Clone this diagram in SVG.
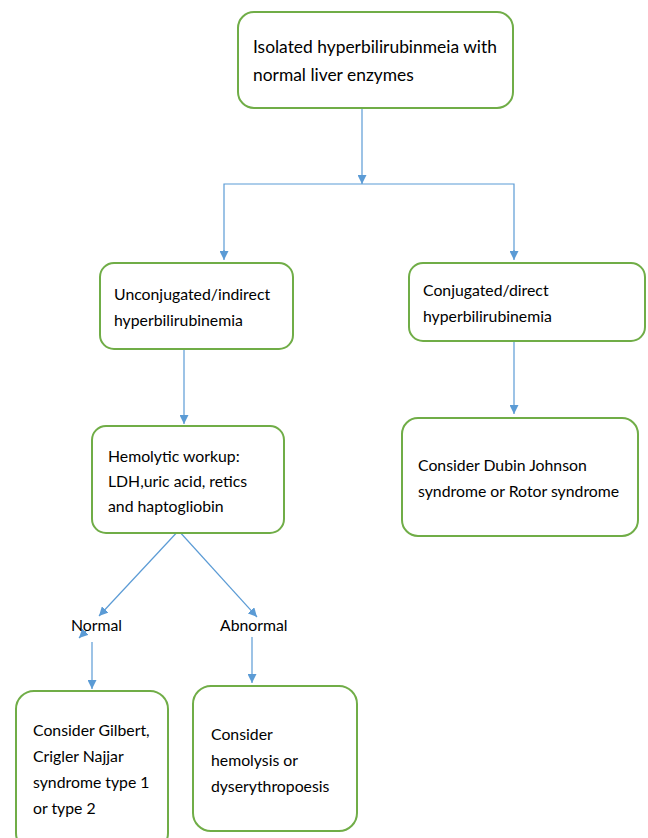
<svg xmlns="http://www.w3.org/2000/svg" width="648" height="838" viewBox="0 0 648 838">
<defs>
<style>
.box{fill:#fff;stroke:#70AD47;stroke-width:2}
.t{font-family:Lato,"Open Sans","Liberation Sans",sans-serif;font-size:15.8px;fill:#000}
.big{font-size:17.4px}
.c{fill:none;stroke:#5B9BD5;stroke-width:1.2}
</style>
<marker id="ah" viewBox="0 0 10 10" refX="10" refY="5" markerWidth="9" markerHeight="9" markerUnits="userSpaceOnUse" orient="auto">
<path d="M0,0 L10,5 L0,10 z" fill="#5B9BD5"/>
</marker>
</defs>
<rect width="648" height="838" fill="#fff"/>
<g id="connectors">
<line class="c" x1="362" y1="108" x2="362" y2="184" marker-end="url(#ah)"/>
<polyline class="c" points="224,255 224,184 514,184 514,255" />
<line class="c" x1="224" y1="250" x2="224" y2="260" marker-end="url(#ah)"/>
<line class="c" x1="514" y1="250" x2="514" y2="260" marker-end="url(#ah)"/>
<line class="c" x1="184" y1="350" x2="184" y2="424" marker-end="url(#ah)"/>
<line class="c" x1="514" y1="342" x2="514" y2="414" marker-end="url(#ah)"/>
<line class="c" x1="181" y1="528" x2="99" y2="616" marker-end="url(#ah)"/>
<line class="c" x1="178" y1="530" x2="257" y2="617" marker-end="url(#ah)"/>
<line class="c" x1="86" y1="631" x2="79" y2="638" marker-end="url(#ah)"/>
<line class="c" x1="92" y1="642" x2="92" y2="689" marker-end="url(#ah)"/>
<line class="c" x1="252" y1="637" x2="252" y2="683" marker-end="url(#ah)"/>
</g>
<g id="n1">
<rect class="box" x="238" y="12" width="275" height="96" rx="16"/>
<text class="t big" x="253" y="53">Isolated hyperbilirubinmeia with</text>
<text class="t big" x="253" y="81">normal liver enzymes</text>
</g>
<g id="n2">
<rect class="box" x="100" y="263" width="193" height="86" rx="14"/>
<text class="t" x="114" y="300">Unconjugated/indirect</text>
<text class="t" x="114" y="326">hyperbilirubinemia</text>
</g>
<g id="n3">
<rect class="box" x="409" y="263" width="236" height="78" rx="14"/>
<text class="t" x="423" y="296">Conjugated/direct</text>
<text class="t" x="423" y="322">hyperbilirubinemia</text>
</g>
<g id="n4">
<rect class="box" x="92" y="426" width="192" height="107" rx="14"/>
<text class="t" x="108" y="462">Hemolytic workup:</text>
<text class="t" x="108" y="487">LDH,uric acid, retics</text>
<text class="t" x="108" y="512">and haptogliobin</text>
</g>
<g id="n5">
<rect class="box" x="402" y="418" width="236" height="118" rx="16"/>
<text class="t" x="418" y="471">Consider Dubin Johnson</text>
<text class="t" x="418" y="497">syndrome or Rotor syndrome</text>
</g>
<g id="l1"><text class="t" x="71" y="631">Normal</text></g>
<g id="l2"><text class="t" x="220" y="631">Abnormal</text></g>
<g id="n6">
<rect class="box" x="16" y="691" width="152" height="160" rx="18"/>
<text class="t" x="33" y="736">Consider Gilbert,</text>
<text class="t" x="33" y="762">Crigler Najjar</text>
<text class="t" x="33" y="788">syndrome type 1</text>
<text class="t" x="33" y="814">or type 2</text>
</g>
<g id="n7">
<rect class="box" x="193" y="686" width="164" height="145" rx="18"/>
<text class="t" x="211" y="740">Consider</text>
<text class="t" x="211" y="766">hemolysis or</text>
<text class="t" x="211" y="792">dyserythropoesis</text>
</g>
</svg>
